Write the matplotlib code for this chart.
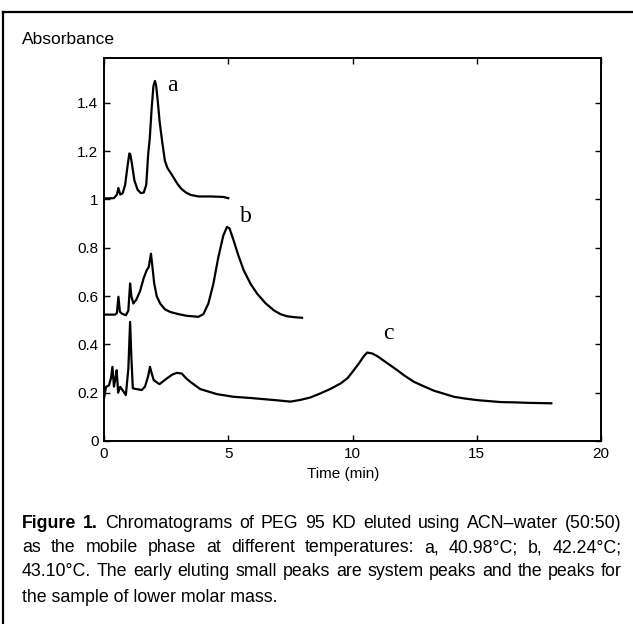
import matplotlib
matplotlib.use('Agg')
import matplotlib.pyplot as plt
from matplotlib.lines import Line2D

# chromatogram a (40.98 C)
a_time = [0, 0.4, 0.52, 0.58, 0.65, 0.75, 0.85, 0.95, 1.02, 1.06, 1.12, 1.22, 1.35, 1.48, 1.6, 1.7,
          1.78, 1.84, 1.92, 1.99, 2.05, 2.1, 2.16, 2.24, 2.34, 2.45, 2.55, 2.68, 2.8, 2.95, 3.1,
          3.3, 3.5, 3.8, 4.3, 4.8, 5.0]
a_abs = [1.004, 1.005, 1.02, 1.047, 1.02, 1.025, 1.06, 1.14, 1.19, 1.185, 1.15, 1.08, 1.04, 1.026,
         1.028, 1.06, 1.19, 1.25, 1.38, 1.47, 1.49, 1.47, 1.41, 1.32, 1.24, 1.16, 1.13, 1.11, 1.09,
         1.065, 1.045, 1.028, 1.018, 1.012, 1.012, 1.01, 1.005]

# chromatogram b (42.24 C)
b_time = [0, 0.45, 0.52, 0.58, 0.64, 0.72, 0.88, 0.98, 1.05, 1.1, 1.18, 1.3, 1.45, 1.6, 1.72, 1.8,
          1.89, 1.95, 2.02, 2.12, 2.26, 2.45, 2.66, 3.0, 3.33, 3.8, 4.0, 4.2, 4.4, 4.6, 4.8, 4.95,
          5.05, 5.2, 5.4, 5.62, 5.9, 6.16, 6.5, 6.83, 7.1, 7.37, 7.7, 7.97]
b_abs = [0.523, 0.523, 0.53, 0.597, 0.535, 0.527, 0.52, 0.54, 0.652, 0.6, 0.569, 0.585, 0.62, 0.675,
         0.707, 0.72, 0.775, 0.72, 0.652, 0.6, 0.569, 0.545, 0.534, 0.525, 0.518, 0.514, 0.525,
         0.569, 0.65, 0.76, 0.85, 0.886, 0.88, 0.835, 0.77, 0.707, 0.65, 0.61, 0.57, 0.541, 0.525,
         0.516, 0.512, 0.51]

# chromatogram c (43.10 C)
c_time = [0, 0.08, 0.2, 0.28, 0.34, 0.4, 0.46, 0.51, 0.57, 0.65, 0.75, 0.88, 0.98, 1.05, 1.1,
          1.16, 1.3, 1.52, 1.65, 1.78, 1.85, 1.92, 2.0, 2.23, 2.53, 2.75, 2.93, 3.13, 3.3, 3.47,
          3.87, 4.54, 5.21, 5.9, 6.56, 7.0, 7.5, 7.9, 8.3, 8.71, 9.1, 9.52, 9.8, 10.0, 10.25,
          10.45, 10.59, 10.8, 11.0, 11.4, 11.8, 12.1, 12.47, 12.9, 13.28, 13.7, 14.08, 14.5,
          15.03, 15.5, 15.97, 16.5, 17.04, 17.5, 18.0]
c_abs = [0.176, 0.224, 0.23, 0.26, 0.307, 0.225, 0.26, 0.293, 0.2, 0.224, 0.21, 0.19, 0.3, 0.493,
         0.35, 0.218, 0.215, 0.211, 0.225, 0.27, 0.307, 0.28, 0.252, 0.235, 0.259, 0.275, 0.282,
         0.279, 0.26, 0.245, 0.215, 0.194, 0.183, 0.178, 0.172, 0.168, 0.163, 0.17, 0.18, 0.197,
         0.215, 0.238, 0.26, 0.286, 0.32, 0.35, 0.366, 0.362, 0.351, 0.322, 0.293, 0.27, 0.245,
         0.225, 0.208, 0.195, 0.183, 0.176, 0.169, 0.165, 0.161, 0.16, 0.158, 0.157, 0.156]

curve_labels = ['a', 'b', 'c']
label_pos = [(2.74, 1.47), (5.69, 0.93), (11.44, 0.445)]

y_ticks = [0, 0.2, 0.4, 0.6, 0.8, 1, 1.2, 1.4]
y_ticklabels = ['0', '0.2', '0.4', '0.6', '0.8', '1', '1.2', '1.4']
x_ticks = [0, 5, 10, 15, 20]

caption = [
    [('Figure', True), ('1.', True), ('Chromatograms', False), ('of', False), ('PEG', False),
     ('95', False), ('KD', False), ('eluted', False), ('using', False), ('ACN–water', False),
     ('(50:50)', False)],
    [(w, False) for w in 'as the mobile phase at different temperatures: a, 40.98°C; b, 42.24°C;'.split()],
    [(w, False) for w in '43.10°C. The early eluting small peaks are system peaks and the peaks for'.split()],
]
caption_last = 'the sample of lower molar mass.'

cap_font = 'Liberation Sans'
sans = 'Liberation Sans'
serif = 'Liberation Serif'

W, H = 633, 624
fig = plt.figure(figsize=(W / 100, H / 100), dpi=100)
ax = fig.add_axes([104 / W, 1 - 441 / H, 497 / W, 383 / H])

for t, v in [(a_time, a_abs), (b_time, b_abs), (c_time, c_abs)]:
    ax.plot(t, v, color='black', lw=1.6, solid_joinstyle='round')

for lab, (lx, ly) in zip(curve_labels, label_pos):
    ax.text(lx, ly, lab, family=serif, fontsize=17, ha='center', va='center')

ax.set_xlim(0, 20)
ax.set_ylim(0, 1.585)
ax.set_xticks(x_ticks)
ax.set_yticks(y_ticks)
ax.set_yticklabels(y_ticklabels)
ax.tick_params(direction='in', length=4, width=1, top=True, right=True, labelsize=11, pad=4)
for lbl in ax.get_xticklabels() + ax.get_yticklabels():
    lbl.set_family(sans)
for s in ax.spines.values():
    s.set_linewidth(1.4)

fig.text(22 / W, 1 - 39 / H, 'Absorbance', family=sans, fontsize=12.5, va='center', ha='left')
fig.text(343 / W, 1 - 474 / H, 'Time (min)', family=sans, fontsize=11, va='center', ha='center')

# outer frame (top and left edges only)
fig.add_artist(Line2D([3 / W, 1], [1 - 12 / H, 1 - 12 / H], color='black', lw=1.6))
fig.add_artist(Line2D([3 / W, 3 / W], [1 - 12 / H, 0], color='black', lw=1.6))

# justified caption, font size shrunk until every line fits with normal spaces
fig.canvas.draw()
r = fig.canvas.get_renderer()
x0, x1 = 22, 622
line_y = [523, 548, 572, 597]

cap_fs = 12.75
while True:
    rows = []
    fits = True
    for words, yy in zip(caption, line_y):
        texts = [fig.text(0, 1 - yy / H, w, family=cap_font, fontsize=cap_fs,
                          fontweight='bold' if b else 'normal', va='center', ha='left')
                 for w, b in words]
        widths = [t.get_window_extent(r).width for t in texts]
        rows.append((texts, widths))
        if sum(widths) + (len(texts) - 1) * 0.22 * cap_fs * 100 / 72 > x1 - x0:
            fits = False
    if fits or cap_fs < 9:
        break
    for texts, _ in rows:
        for t in texts:
            t.remove()
    cap_fs -= 0.25

for texts, widths in rows:
    gap = (x1 - x0 - sum(widths)) / (len(texts) - 1)
    x = x0
    for t, wd in zip(texts, widths):
        t.set_x(x / W)
        x += wd + gap
fig.text(x0 / W, 1 - line_y[3] / H, caption_last, family=cap_font, fontsize=cap_fs,
         va='center', ha='left')

fig.savefig('out.png', dpi=100)
